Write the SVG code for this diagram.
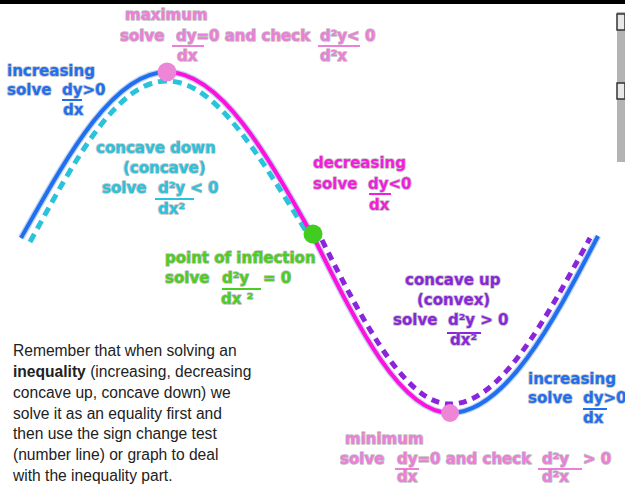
<svg xmlns="http://www.w3.org/2000/svg" width="625" height="486" viewBox="0 0 625 486">
<style>
.t{font-family:"DejaVu Sans",Verdana,sans-serif;font-weight:bold;font-size:15px;paint-order:stroke;stroke:rgba(140,140,140,0.55);stroke-width:1.6px;stroke-linejoin:round}
.pk{fill:#ec7fd8}
.bl{fill:#1f6ff0}
.cy{fill:#2bc2dc}
.mg{fill:#f21edc}
.gr{fill:#4ccd22}
.pu{fill:#8a25dc}
.bar{stroke-width:2;fill:none}
.body{font-family:"Liberation Sans",Arial,sans-serif;font-size:15.6px;fill:#222}
.halo{fill:none;stroke:rgba(150,180,230,0.6);stroke-width:6.5}
</style>
<rect x="0" y="0" width="625" height="486" fill="#ffffff"/>
<rect x="0" y="0" width="625" height="4" fill="#000000"/>
<g id="side-strip">
<rect x="617" y="12" width="8" height="150" fill="#b4b4b4"/>
<rect x="617" y="14" width="8" height="16" fill="#e8e8e8" stroke="#333" stroke-width="1.5"/>
<rect x="617" y="83" width="8" height="16" fill="#e8e8e8" stroke="#333" stroke-width="1.5"/>
</g>
<g id="connectors">
<path class="halo" d="M21,238 C68.5,153.9 113.8,72 167,72 C220.6,72 266.7,153.9 315,240 C359,328.6 401.1,413 450,413 C504.3,413 551.1,326.7 598,236"/>
<path d="M30,242 C76,158 117,81 167,81 C216,81 259,156 306,231" fill="none" stroke="#2bc2dc" stroke-width="5" stroke-dasharray="9 6"/>
<path d="M322,240 C366,328 407,404 450,404 C499,404 542,326 590,238" fill="none" stroke="#8a25dc" stroke-width="5" stroke-dasharray="8 6"/>
<path d="M21,238 C68.5,153.9 113.8,72 167,72" fill="none" stroke="#1f6ff0" stroke-width="4"/>
<path d="M167,72 C220.6,72 266.7,153.9 315,240 C359,328.6 401.1,413 450,413" fill="none" stroke="#ff10dc" stroke-width="4"/>
<path d="M450,413 C504.3,413 551.1,326.7 598,236" fill="none" stroke="#1f6ff0" stroke-width="4"/>
</g>
<g id="max-point"><circle cx="167" cy="72" r="9.5" fill="#ee86d8"/></g>
<g id="min-point"><circle cx="450" cy="413" r="9" fill="#ee86d8"/></g>
<g id="inflection-point"><circle cx="313" cy="234" r="9.5" fill="#41cd20"/></g>
<g id="maximum-label">
<text class="t pk" x="125" y="20">maximum</text>
<text class="t pk" x="120" y="41">solve</text>
<text class="t pk" x="176" y="41">dy=0 and check</text>
<text class="t pk" x="320" y="41">d²y&lt; 0</text>
<line class="bar" x1="172" y1="46" x2="204" y2="46" stroke="#ec7fd8"/>
<line class="bar" x1="318" y1="46" x2="360" y2="46" stroke="#ec7fd8"/>
<text class="t pk" x="177" y="61">dx</text>
<text class="t pk" x="320" y="61">d²x</text>
</g>
<g id="increasing-left">
<text class="t bl" x="7" y="76">increasing</text>
<text class="t bl" x="7" y="95">solve</text>
<text class="t bl" x="62" y="95">dy&gt;0</text>
<line class="bar" x1="62" y1="100" x2="82" y2="100" stroke="#1f6ff0"/>
<text class="t bl" x="63" y="115">dx</text>
</g>
<g id="concave-down">
<text class="t cy" x="96" y="153">concave down</text>
<text class="t cy" x="123" y="173">(concave)</text>
<text class="t cy" x="102" y="193">solve</text>
<text class="t cy" x="158" y="193">d²y &lt; 0</text>
<line class="bar" x1="155" y1="199" x2="194" y2="199" stroke="#2bc2dc"/>
<text class="t cy" x="158" y="214">dx²</text>
</g>
<g id="decreasing">
<text class="t mg" x="313" y="168">decreasing</text>
<text class="t mg" x="313" y="189">solve</text>
<text class="t mg" x="368" y="189">dy&lt;0</text>
<line class="bar" x1="369" y1="194" x2="391" y2="194" stroke="#f21edc"/>
<text class="t mg" x="369" y="210">dx</text>
</g>
<g id="inflection-label">
<text class="t gr" x="165" y="263">point of inflection</text>
<text class="t gr" x="165" y="283">solve</text>
<text class="t gr" x="222" y="283">d²y</text>
<text class="t gr" x="263" y="283">= 0</text>
<line class="bar" x1="222" y1="289" x2="261" y2="289" stroke="#4ccd22"/>
<text class="t gr" x="221" y="304">dx ²</text>
</g>
<g id="concave-up">
<text class="t pu" x="405" y="285">concave up</text>
<text class="t pu" x="417" y="305">(convex)</text>
<text class="t pu" x="393" y="325">solve</text>
<text class="t pu" x="448" y="325">d²y &gt; 0</text>
<line class="bar" x1="447" y1="333" x2="481" y2="333" stroke="#8a25dc"/>
<text class="t pu" x="450" y="345">dx²</text>
</g>
<g id="increasing-right">
<text class="t bl" x="528" y="384">increasing</text>
<text class="t bl" x="528" y="403">solve</text>
<text class="t bl" x="583" y="403">dy&gt;0</text>
<line class="bar" x1="583" y1="409" x2="607" y2="409" stroke="#1f6ff0"/>
<text class="t bl" x="583" y="423">dx</text>
</g>
<g id="minimum-label">
<text class="t pk" x="345" y="444">minimum</text>
<text class="t pk" x="340" y="464">solve</text>
<text class="t pk" x="397" y="464">dy=0 and check</text>
<text class="t pk" x="542" y="464">d²y</text>
<text class="t pk" x="583" y="464">&gt; 0</text>
<line class="bar" x1="395" y1="469" x2="419" y2="469" stroke="#ec7fd8"/>
<line class="bar" x1="538" y1="469" x2="582" y2="469" stroke="#ec7fd8"/>
<text class="t pk" x="397" y="482">dx</text>
<text class="t pk" x="542" y="482">d²x</text>
</g>
<g id="note">
<text class="body" x="13" y="356">Remember that when solving an</text>
<text class="body" x="13" y="377"><tspan font-weight="bold">inequality</tspan> (increasing, decreasing</text>
<text class="body" x="13" y="397.8">concave up, concave down) we</text>
<text class="body" x="13" y="418.6">solve it as an equality first and</text>
<text class="body" x="13" y="439.4">then use the sign change test</text>
<text class="body" x="13" y="460.2">(number line) or graph to deal</text>
<text class="body" x="13" y="481">with the inequality part.</text>
</g>
</svg>
